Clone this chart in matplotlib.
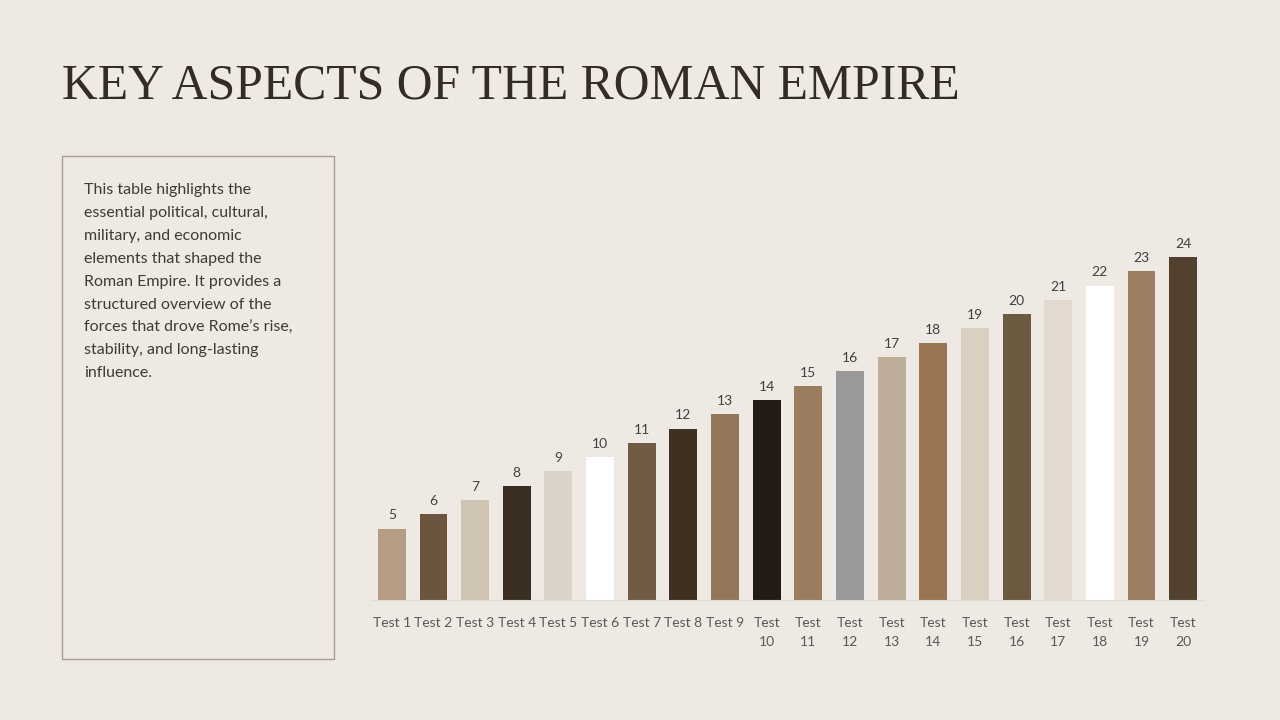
import matplotlib.pyplot as plt
from matplotlib.patches import Rectangle

# chart data
categories = ["Test 1", "Test 2", "Test 3", "Test 4", "Test 5", "Test 6", "Test 7", "Test 8", "Test 9",
              "Test\n10", "Test\n11", "Test\n12", "Test\n13", "Test\n14", "Test\n15", "Test\n16",
              "Test\n17", "Test\n18", "Test\n19", "Test\n20"]
values = [5, 6, 7, 8, 9, 10, 11, 12, 13, 14, 15, 16, 17, 18, 19, 20, 21, 22, 23, 24]
bar_colors = ["#B59D84", "#6B553F", "#CFC3B4", "#3A2E22", "#DCD3C8", "#FFFFFF", "#705B43",
              "#3F3022", "#927859", "#211A15", "#9A7D5E", "#999999", "#BEAD98", "#9A7552",
              "#DBCFC2", "#6B5940", "#E3D9CF", "#FFFFFF", "#9B7D5F", "#52412F"]

title = "KEY ASPECTS OF THE ROMAN EMPIRE"
blurb = ("This table highlights the\nessential political, cultural,\nmilitary, and economic\n"
         "elements that shaped the\nRoman Empire. It provides a\nstructured overview of the\n"
         "forces that drove Rome\u2019s rise,\nstability, and long-lasting\ninfluence.")

bg = "#EEE9E3"
W, H = 1280, 720

fig = plt.figure(figsize=(12.8, 7.2), dpi=100, facecolor=bg)

fig.text(62 / W, 1 - 86 / H, title, family="Liberation Serif", fontsize=35.7,
         color="#332C24", va="center", ha="left")

# text panel
fig.patches.append(Rectangle((62 / W, 1 - 659 / H), 272 / W, 503 / H, transform=fig.transFigure,
                             fill=False, edgecolor="#A89C94", linewidth=1))
fig.text(84 / W, 1 - 183 / H, blurb, family="Lato", fontsize=11.5, color="#3F3A35",
         va="top", ha="left", linespacing=1.81)

# bar chart
ax_left, ax_right, ax_bottom, ax_top = 371, 1204, 600, 230
ax = fig.add_axes([ax_left / W, 1 - ax_bottom / H, (ax_right - ax_left) / W, (ax_bottom - ax_top) / H])
ax.set_facecolor(bg)
x = range(len(values))
bars = ax.bar(x, values, width=0.67, color=bar_colors)
ax.set_xlim(-0.5, len(values) - 0.5)
ax.set_ylim(0, (ax_bottom - ax_top) / 14.29)
for xi, v in zip(x, values):
    ax.text(xi, v + 0.5, str(v), ha="center", va="bottom", fontsize=10, color="#404040",
            family="Lato")

ax.set_xticks(list(x))
ax.set_xticklabels(categories, fontsize=10, color="#595959", family="Lato", linespacing=1.75)
ax.tick_params(axis="x", length=0, pad=12)
ax.set_yticks([])
for s in ["top", "right", "left"]:
    ax.spines[s].set_visible(False)
ax.spines["bottom"].set_color("#E2DCD5")

fig.savefig("out.png", dpi=100, facecolor=bg)
